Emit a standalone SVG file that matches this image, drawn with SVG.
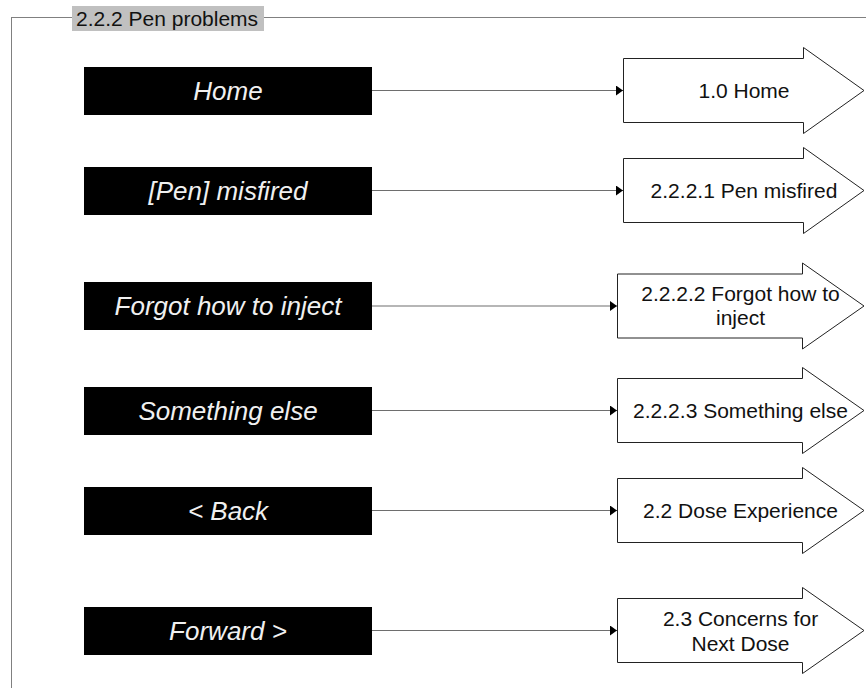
<svg xmlns="http://www.w3.org/2000/svg" width="866" height="688" viewBox="0 0 866 688">
<style>
.frame{fill:none;stroke:#808080;stroke-width:1}
.ttlbg{fill:#c0c0c0}
.ttl{font-family:"Liberation Sans",Arial,sans-serif;font-size:21px;fill:#111}
.btn{fill:#000}
.btxt{font-family:"Liberation Sans",Arial,sans-serif;font-size:26px;font-style:italic;fill:#f0f0f0;text-anchor:middle}
.arr{fill:#fff;stroke:#222;stroke-width:1}
.atxt{font-family:"Liberation Sans",Arial,sans-serif;font-size:21px;fill:#111;text-anchor:middle}
.con{fill:none;stroke:#6e6e6e;stroke-width:1.2}
</style>
<defs>
<marker id="ah" markerUnits="userSpaceOnUse" markerWidth="8" markerHeight="11" refX="7" refY="5" orient="auto">
<path d="M0,0 L7,5 L0,10 Z" fill="#000"/>
</marker>
</defs>
<rect width="866" height="688" fill="#fff"/>
<g id="frame">
<rect class="frame" x="11.5" y="17.5" width="900" height="700"/>
<rect class="ttlbg" x="72" y="6" width="192" height="25"/>
<text class="ttl" x="76" y="25.5">2.2.2 Pen problems</text>
</g>
<g id="connectors">
<line class="con" x1="372" y1="90.5" x2="623" y2="90.5" marker-end="url(#ah)"/>
<line class="con" x1="372" y1="190.5" x2="623" y2="190.5" marker-end="url(#ah)"/>
<line class="con" x1="372" y1="306" x2="617" y2="306" marker-end="url(#ah)"/>
<line class="con" x1="372" y1="410.5" x2="617" y2="410.5" marker-end="url(#ah)"/>
<line class="con" x1="372" y1="510.5" x2="617" y2="510.5" marker-end="url(#ah)"/>
<line class="con" x1="372" y1="630.5" x2="617" y2="630.5" marker-end="url(#ah)"/>
</g>
<g id="btn-home"><rect class="btn" x="84" y="67" width="288" height="48"/><text class="btxt" x="228" y="100">Home</text></g>
<g id="btn-misfired"><rect class="btn" x="84" y="167" width="288" height="48"/><text class="btxt" x="228" y="200">[Pen] misfired</text></g>
<g id="btn-forgot"><rect class="btn" x="84" y="282" width="288" height="48"/><text class="btxt" x="228" y="315">Forgot how to inject</text></g>
<g id="btn-else"><rect class="btn" x="84" y="387" width="288" height="48"/><text class="btxt" x="228" y="420">Something else</text></g>
<g id="btn-back"><rect class="btn" x="84" y="487" width="288" height="48"/><text class="btxt" x="228" y="520">&lt; Back</text></g>
<g id="btn-forward"><rect class="btn" x="84" y="607" width="288" height="48"/><text class="btxt" x="228" y="640">Forward &gt;</text></g>
<g id="arr-home">
<path class="arr" d="M623.5,58.5 H803.5 V47.5 L864,90.5 L803.5,133.5 V122.5 H623.5 Z"/>
<text class="atxt" x="744" y="98">1.0 Home</text>
</g>
<g id="arr-misfired">
<path class="arr" d="M623.5,158.5 H803.5 V147.5 L864,190.5 L803.5,233.5 V222.5 H623.5 Z"/>
<text class="atxt" x="744" y="198">2.2.2.1 Pen misfired</text>
</g>
<g id="arr-forgot">
<path class="arr" d="M617.5,274 H802.5 V263 L864,306 L802.5,349 V338 H617.5 Z"/>
<text class="atxt" x="740.5" y="300.5">2.2.2.2 Forgot how to</text>
<text class="atxt" x="740.5" y="324.5">inject</text>
</g>
<g id="arr-else">
<path class="arr" d="M617.5,378.5 H802.5 V367.5 L864,410.5 L802.5,453.5 V442.5 H617.5 Z"/>
<text class="atxt" x="740.5" y="418">2.2.2.3 Something else</text>
</g>
<g id="arr-back">
<path class="arr" d="M617.5,478.5 H802.5 V467.5 L864,510.5 L802.5,553.5 V542.5 H617.5 Z"/>
<text class="atxt" x="740.5" y="518">2.2 Dose Experience</text>
</g>
<g id="arr-forward">
<path class="arr" d="M617.5,598.5 H802.5 V587.5 L864,630.5 L802.5,673.5 V662.5 H617.5 Z"/>
<text class="atxt" x="740.5" y="626">2.3 Concerns for</text>
<text class="atxt" x="740.5" y="651">Next Dose</text>
</g>
</svg>
